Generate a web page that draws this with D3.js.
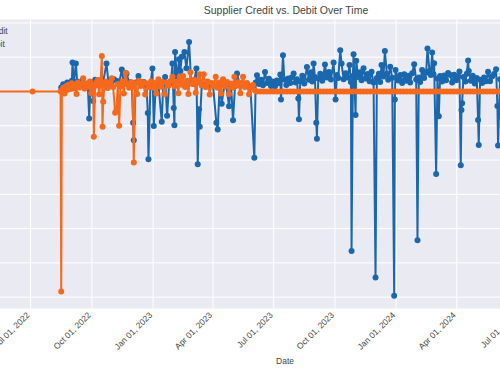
<!DOCTYPE html>
<html>
<head>
<meta charset="utf-8">
<script src="https://cdn.jsdelivr.net/npm/d3@7"></script>
<style>
  body { margin: 0; background: #fff; }
  svg { display: block; font-family: "Liberation Sans", Arial, sans-serif; }
</style>
</head>
<body>
<svg id="chart" width="500" height="375"></svg>
<script>
// Credit (blue) and Debit (orange) amounts by date
const creditData = [
  ["2022-08-16",1200],["2022-08-19",2100],["2022-08-22",1500],["2022-08-25",2600],["2022-08-28",1800],
  ["2022-09-01",3100],["2022-09-02",8450],["2022-09-04",2400],["2022-09-07",8160],["2022-09-09",2900],
  ["2022-09-13",1700],["2022-09-17",3300],["2022-09-21",2200],["2022-09-25",1600],["2022-09-27",-7870],
  ["2022-09-29",2500],["2022-10-03",-2740],["2022-10-06",3400],["2022-10-10",2000],["2022-10-14",3300],
  ["2022-10-18",2800],["2022-10-23",8160],["2022-10-26",2500],["2022-10-30",2300],["2022-11-03",3600],
  ["2022-11-07",3100],["2022-11-11",2400],["2022-11-15",6410],["2022-11-18",2400],["2022-11-22",5200],
  ["2022-11-26",2700],["2022-11-30",2400],["2022-12-02",-9150],["2022-12-03",-14200],["2022-12-06",2600],
  ["2022-12-10",4500],["2022-12-14",2000],["2022-12-18",2800],["2022-12-22",1900],["2022-12-24",-6240],
  ["2022-12-25",-19730],["2022-12-28",2200],["2022-12-31",6700],["2023-01-02",-10030],["2023-01-05",1800],
  ["2023-01-09",2000],["2023-01-14",-8860],["2023-01-16",1500],["2023-01-19",4260],["2023-01-22",-7110],
  ["2023-01-25",2200],["2023-01-28",3000],["2023-01-30",8160],["2023-02-01",-4780],["2023-02-02",-9820],
  ["2023-02-03",11540],["2023-02-06",3500],["2023-02-09",9420],["2023-02-11",6000],["2023-02-13",10100],
  ["2023-02-17",11540],["2023-02-20",6760],["2023-02-24",14460],["2023-02-27",3000],["2023-03-03",2200],
  ["2023-03-07",6700],["2023-03-09",-21190],["2023-03-11",-5160],["2023-03-12",-10320],["2023-03-15",1800],
  ["2023-03-19",2000],["2023-03-24",1500],["2023-03-28",2000],["2023-04-01",1800],["2023-04-06",-9150],
  ["2023-04-08",-11080],["2023-04-11",2200],["2023-04-14",-3600],["2023-04-18",1800],["2023-04-21",1500],
  ["2023-04-25",-4290],["2023-04-28",2000],["2023-05-01",-8370],["2023-05-04",1600],["2023-05-07",5250],
  ["2023-05-11",2000],["2023-05-15",1800],["2023-05-19",1500],["2023-05-23",1700],["2023-05-27",1400],
  ["2023-06-02",-19360],["2023-06-04",2600],["2023-06-06",4750],["2023-06-09",2200],["2023-06-12",3400],
  ["2023-06-15",1800],["2023-06-18",5710],["2023-06-21",2500],["2023-06-24",3700],["2023-06-27",1600],
  ["2023-06-30",2900],["2023-07-03",1500],["2023-07-06",3200],["2023-07-09",2400],["2023-07-11",4960],
  ["2023-07-12",-2330],["2023-07-15",10580],["2023-07-17",3500],["2023-07-20",1900],["2023-07-23",3800],
  ["2023-07-26",2500],["2023-07-28",4100],["2023-07-31",5250],["2023-08-03",2600],["2023-08-05",3600],
  ["2023-08-07",-2040],["2023-08-08",-8070],["2023-08-10",3000],["2023-08-13",4600],["2023-08-16",2300],
  ["2023-08-20",7170],["2023-08-23",3400],["2023-08-26",5600],["2023-08-28",2900],["2023-08-30",8160],
  ["2023-09-01",4200],["2023-09-03",-9150],["2023-09-04",-13760],["2023-09-06",3800],["2023-09-09",5200],
  ["2023-09-12",3100],["2023-09-14",4900],["2023-09-16",7870],["2023-09-19",4100],["2023-09-22",5700],
  ["2023-09-25",3500],["2023-09-29",8450],["2023-10-02",-2330],["2023-10-04",4800],["2023-10-06",3900],
  ["2023-10-09",12040],["2023-10-11",8160],["2023-10-14",3600],["2023-10-17",5300],["2023-10-20",4100],
  ["2023-10-23",7720],["2023-10-25",2800],["2023-10-26",-46500],["2023-10-28",4500],["2023-10-29",10900],
  ["2023-11-01",-6850],["2023-11-02",9000],["2023-11-05",4200],["2023-11-08",5600],["2023-11-10",3300],
  ["2023-11-13",6760],["2023-11-16",3800],["2023-11-19",5100],["2023-11-22",3000],["2023-11-25",5770],
  ["2023-11-28",2600],["2023-12-01",-54280],["2023-12-03",3900],["2023-12-06",5200],["2023-12-08",2800],
  ["2023-12-10",7720],["2023-12-13",4400],["2023-12-15",11810],["2023-12-18",5200],["2023-12-20",3400],
  ["2023-12-23",7230],["2023-12-26",4000],["2023-12-29",-59610],["2023-12-30",-2330],["2023-12-31",6270],
  ["2024-01-04",3200],["2024-01-07",4800],["2024-01-10",2500],["2024-01-13",5040],["2024-01-16",3100],
  ["2024-01-19",4600],["2024-01-22",2600],["2024-01-25",5300],["2024-01-28",7930],["2024-01-31",3500],
  ["2024-02-02",-43380],["2024-02-04",4100],["2024-02-06",2800],["2024-02-09",6270],["2024-02-12",3900],
  ["2024-02-15",5500],["2024-02-17",12530],["2024-02-20",6000],["2024-02-22",4800],["2024-02-24",11370],
  ["2024-02-26",5000],["2024-02-27",8220],["2024-03-01",-24050],["2024-03-03",3800],["2024-03-05",-7230],
  ["2024-03-07",4500],["2024-03-10",2900],["2024-03-13",4700],["2024-03-16",3300],["2024-03-19",5400],
  ["2024-03-22",4810],["2024-03-25",2600],["2024-03-28",4900],["2024-03-31",3300],["2024-04-03",4400],
  ["2024-04-05",5830],["2024-04-07",-21510],["2024-04-08",-5390],["2024-04-09",-3440],["2024-04-11",4200],
  ["2024-04-14",2900],["2024-04-16",5200],["2024-04-18",9040],["2024-04-19",5980],["2024-04-22",3100],
  ["2024-04-25",4600],["2024-04-28",2300],["2024-05-01",3900],["2024-05-03",-8310],["2024-05-04",-15600],
  ["2024-05-06",3400],["2024-05-09",2500],["2024-05-12",4100],["2024-05-15",3000],["2024-05-18",5770],
  ["2024-05-21",3000],["2024-05-24",4400],["2024-05-27",5100],["2024-05-30",6470],["2024-06-01",-4230],
  ["2024-06-02",-15740],["2024-06-05",3600],["2024-06-09",5200],["2024-06-14",2800],["2024-06-19",4300],
  ["2024-06-25",3100],["2024-06-30",2500]
];

const debitData = [
  ["2022-04-20",0],["2022-07-04",0],["2022-08-15",0],["2022-08-16",-58360],["2022-08-17",300],
  ["2022-08-19",1100],["2022-08-21",-600],["2022-08-23",1500],["2022-08-25",400],["2022-08-27",2000],
  ["2022-08-30",700],["2022-09-01",2400],["2022-09-03",900],["2022-09-05",1800],["2022-09-08",-700],
  ["2022-09-10",2600],["2022-09-12",1200],["2022-09-15",2200],["2022-09-18",3850],["2022-09-20",800],
  ["2022-09-23",2300],["2022-09-25",1400],["2022-09-28",2900],["2022-09-30",-500],["2022-10-03",2000],
  ["2022-10-04",-13180],["2022-10-06",1700],["2022-10-08",2700],["2022-10-10",3350],["2022-10-12",-800],
  ["2022-10-14",2300],["2022-10-16",10350],["2022-10-17",-10260],["2022-10-18",-2970],["2022-10-20",1800],
  ["2022-10-22",2900],["2022-10-25",1000],["2022-10-27",2500],["2022-10-31",3850],["2022-11-02",1300],
  ["2022-11-05",-6180],["2022-11-07",-5390],["2022-11-09",2200],["2022-11-11",-9970],["2022-11-13",1500],
  ["2022-11-16",3000],["2022-11-18",-600],["2022-11-21",5480],["2022-11-23",2100],["2022-11-26",1100],
  ["2022-11-29",2800],["2022-12-01",1500],["2022-12-03",-20700],["2022-12-05",2400],["2022-12-08",-700],
  ["2022-12-11",3100],["2022-12-14",1600],["2022-12-17",2700],["2022-12-20",-900],["2022-12-23",2300],
  ["2022-12-26",1300],["2022-12-29",3000],["2023-01-01",1100],["2023-01-04",2500],["2023-01-06",-600],
  ["2023-01-09",3560],["2023-01-12",1400],["2023-01-15",2800],["2023-01-18",-800],["2023-01-21",2600],
  ["2023-01-24",1700],["2023-01-27",3000],["2023-01-30",4310],["2023-02-02",1500],["2023-02-05",2900],
  ["2023-02-08",-500],["2023-02-10",4310],["2023-02-13",2000],["2023-02-15",4520],["2023-02-18",1300],
  ["2023-02-21",3100],["2023-02-23",-700],["2023-02-26",5600],["2023-03-01",2200],["2023-03-04",3400],
  ["2023-03-06",-400],["2023-03-09",2700],["2023-03-12",5010],["2023-03-15",1800],["2023-03-18",5010],
  ["2023-03-21",1300],["2023-03-24",2900],["2023-03-27",-900],["2023-03-30",2500],["2023-04-02",1600],
  ["2023-04-05",4310],["2023-04-08",1100],["2023-04-11",2600],["2023-04-13",-600],["2023-04-16",3560],
  ["2023-04-19",1500],["2023-04-22",2800],["2023-04-25",-700],["2023-04-28",2300],["2023-05-01",1200],
  ["2023-05-03",4310],["2023-05-06",1700],["2023-05-09",2700],["2023-05-12",-500],["2023-05-14",2400],
  ["2023-05-16",4310],["2023-05-19",1300],["2023-05-22",2500],["2023-05-25",-800],["2023-05-28",1500],
  ["2023-05-31",1890],["2023-06-03",300],["2023-06-06",0],["2023-06-11",0],["2023-06-16",0],
  ["2023-06-21",0],["2023-06-26",0],["2023-07-01",0],["2023-07-06",0],["2023-07-11",0],
  ["2023-07-16",0],["2023-07-21",0],["2023-07-26",0],["2023-07-31",0],["2023-08-05",0],
  ["2023-08-10",0],["2023-08-15",0],["2023-08-20",0],["2023-08-25",0],["2023-08-30",0],
  ["2023-09-04",0],["2023-09-09",0],["2023-09-14",0],["2023-09-19",0],["2023-09-24",0],
  ["2023-09-29",0],["2023-10-04",0],["2023-10-09",0],["2023-10-14",0],["2023-10-19",0],
  ["2023-10-24",0],["2023-10-29",0],["2023-11-03",0],["2023-11-08",0],["2023-11-13",0],
  ["2023-11-18",0],["2023-11-23",0],["2023-11-28",0],["2023-12-03",0],["2023-12-08",0],
  ["2023-12-13",0],["2023-12-18",0],["2023-12-23",0],["2023-12-28",0],["2024-01-02",0],
  ["2024-01-07",0],["2024-01-12",0],["2024-01-17",0],["2024-01-22",0],["2024-01-27",0],
  ["2024-02-01",0],["2024-02-06",0],["2024-02-11",0],["2024-02-16",0],["2024-02-21",0],
  ["2024-02-26",0],["2024-03-02",0],["2024-03-07",0],["2024-03-12",0],["2024-03-17",0],
  ["2024-03-22",0],["2024-03-27",0],["2024-04-01",0],["2024-04-06",0],["2024-04-11",0],
  ["2024-04-16",0],["2024-04-21",0],["2024-04-26",0],["2024-05-01",0],["2024-05-06",0],
  ["2024-05-11",0],["2024-05-16",0],["2024-05-21",0],["2024-05-26",0],["2024-05-31",0],
  ["2024-06-05",0],["2024-06-10",0],["2024-06-15",0],["2024-06-20",0],["2024-06-25",0],
  ["2024-06-30",0]
];

const seriesNames = ["Credit", "Debit"];
const seriesColors = ["#1a67ad", "#f5691d"];
const xTicks = ["2022-07-01","2022-10-01","2023-01-01","2023-04-01","2023-07-01",
  "2023-10-01","2024-01-01","2024-04-01","2024-07-01"];
const yTicks = [-60000,-50000,-40000,-30000,-20000,-10000,0,10000,20000];
const xDomain = ["2022-03-02", "2024-09-03"];
const yDomain = [-63300, 21000];

// the figure is wider than the window, so the plot runs past both edges
var plot = { left: -50, right: 560, top: 19.5, bottom: 308.5 };
var parse = d3.timeParse("%Y-%m-%d");
var svg = d3.select("#chart");

var x = d3.scaleTime()
  .domain(xDomain.map(parse))
  .range([plot.left, plot.right]);
var y = d3.scaleLinear()
  .domain(yDomain)
  .range([plot.bottom, plot.top]);

svg.append("rect")
  .attr("x", plot.left)
  .attr("y", plot.top)
  .attr("width", plot.right - plot.left)
  .attr("height", plot.bottom - plot.top)
  .attr("fill", "#eaeaf2");

// grid
svg.append("g")
  .selectAll("line")
  .data(yTicks)
  .enter()
  .append("line")
  .attr("x1", plot.left)
  .attr("x2", plot.right)
  .attr("y1", function (d) { return y(d); })
  .attr("y2", function (d) { return y(d); })
  .attr("stroke", "#fff")
  .attr("stroke-width", 1);

svg.append("g")
  .selectAll("line")
  .data(xTicks)
  .enter()
  .append("line")
  .attr("x1", function (d) { return x(parse(d)); })
  .attr("x2", function (d) { return x(parse(d)); })
  .attr("y1", plot.top)
  .attr("y2", plot.bottom)
  .attr("stroke", "#fff")
  .attr("stroke-width", 1);

// x axis labels
var xAxis = d3.axisBottom(x)
  .tickValues(xTicks.map(parse))
  .tickFormat(d3.timeFormat("%b %d, %Y"))
  .tickSize(0);
var gx = svg.append("g")
  .attr("transform", "translate(0," + plot.bottom + ")")
  .call(xAxis);
gx.select(".domain").remove();
gx.selectAll("text")
  .attr("font-family", "Liberation Sans, Arial, sans-serif")
  .attr("font-size", 8.5)
  .attr("fill", "#444")
  .attr("text-anchor", "end")
  .attr("x", 0)
  .attr("y", 0)
  .attr("dy", "0.35em")
  .attr("transform", "translate(-3,5) rotate(-45)");

// y axis labels (they sit left of the window)
var yAxis = d3.axisLeft(y).tickValues(yTicks).tickFormat(d3.format(",")).tickSize(0);
var gy = svg.append("g")
  .attr("transform", "translate(" + (plot.left - 4) + ",0)")
  .call(yAxis);
gy.select(".domain").remove();
gy.selectAll("text").attr("font-size", 8.5).attr("fill", "#444");

var line = d3.line()
  .x(function (d) { return x(parse(d[0])); })
  .y(function (d) { return y(d[1]); });

[creditData, debitData].forEach(function (data, i) {
  var g = svg.append("g").attr("class", "trace");
  g.append("path")
    .datum(data)
    .attr("d", line)
    .attr("fill", "none")
    .attr("stroke", seriesColors[i])
    .attr("stroke-width", 2)
    .attr("stroke-linejoin", "round");
  g.selectAll("circle")
    .data(data)
    .enter()
    .append("circle")
    .attr("cx", function (d) { return x(parse(d[0])); })
    .attr("cy", function (d) { return y(d[1]); })
    .attr("r", 3)
    .attr("fill", seriesColors[i]);
});

// legend
var legend = svg.append("g").attr("transform", "translate(-55,31)");
seriesNames.forEach(function (name, i) {
  var item = legend.append("g").attr("transform", "translate(0," + i * 13 + ")");
  item.append("line")
    .attr("x1", 5).attr("x2", 35)
    .attr("stroke", seriesColors[i]).attr("stroke-width", 2);
  item.append("circle").attr("cx", 20).attr("r", 3).attr("fill", seriesColors[i]);
  item.append("text")
    .attr("x", 40)
    .attr("dy", "0.35em")
    .attr("font-size", 8.5)
    .attr("fill", "#444")
    .text(name);
});

svg.append("text")
  .attr("x", 286)
  .attr("y", 14)
  .attr("text-anchor", "middle")
  .attr("font-size", 10.5)
  .attr("fill", "#444")
  .text("Supplier Credit vs. Debit Over Time");

svg.append("text")
  .attr("x", 285)
  .attr("y", 364)
  .attr("text-anchor", "middle")
  .attr("font-size", 8.5)
  .attr("fill", "#444")
  .text("Date");
</script>
</body>
</html>
